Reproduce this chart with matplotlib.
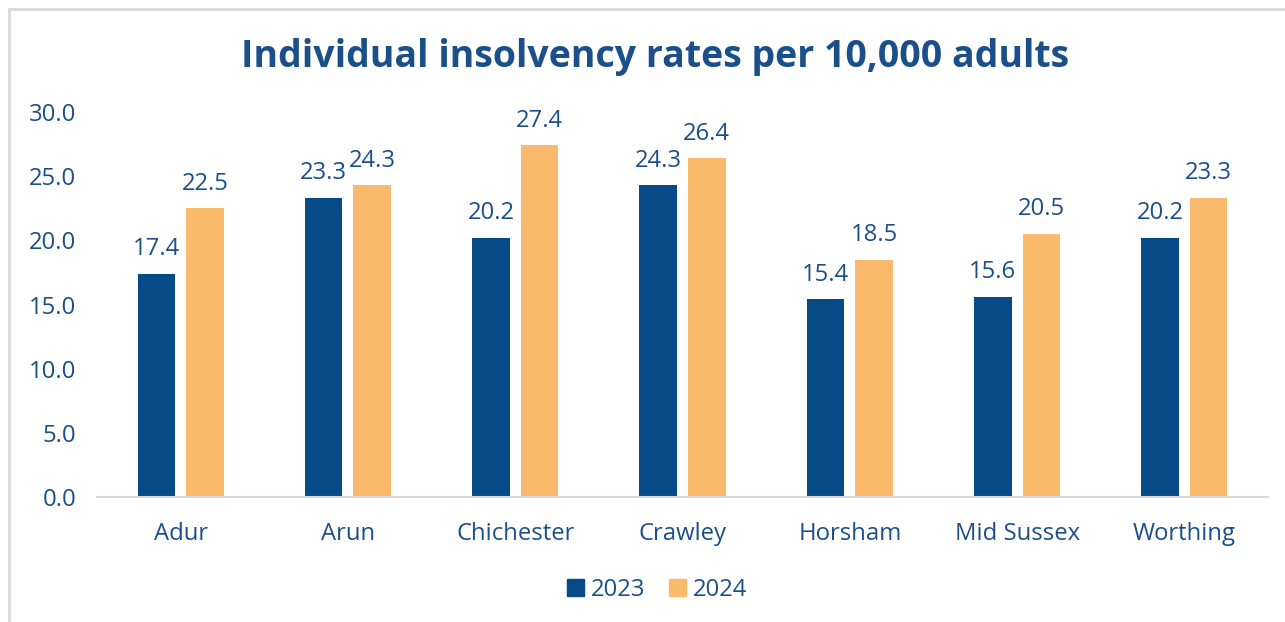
import numpy as np
import matplotlib.pyplot as plt
from matplotlib.lines import Line2D
from matplotlib.patches import Patch

districts = ["Adur", "Arun", "Chichester", "Crawley", "Horsham", "Mid Sussex", "Worthing"]
rates_2023 = [17.4, 23.3, 20.2, 24.3, 15.4, 15.6, 20.2]
rates_2024 = [22.5, 24.3, 27.4, 26.4, 18.5, 20.5, 23.3]
y_ticks = [0, 5, 10, 15, 20, 25, 30]

blue = "#064a87"
orange = "#fbba6b"
text_col = "#1b4f8a"

plt.rcParams["font.family"] = ["Open Sans", "DejaVu Sans"]

fig = plt.figure(figsize=(12.85, 6.22), dpi=100)
ax = fig.add_axes([97 / 1285, 1 - 497 / 622, (1268 - 97) / 1285, 385 / 622])

x = np.arange(len(districts))
w = 0.225
b1 = ax.bar(x - 0.145, rates_2023, w, color=blue, label="2023")
b2 = ax.bar(x + 0.145, rates_2024, w, color=orange, label="2024")

for bars in (b1, b2):
    for bar in bars:
        h = bar.get_height()
        ax.annotate(f"{h:.1f}", (bar.get_x() + bar.get_width() / 2, h),
                    xytext=(0, 9), textcoords="offset points",
                    ha="center", va="bottom", fontsize=17.2, color=text_col)

ax.set_xlim(-0.5, len(districts) - 0.5)
ax.set_ylim(0, 30)
ax.set_yticks(y_ticks)
ax.set_yticklabels([f"{v:.1f}" for v in y_ticks])
ax.set_xticks(x)
ax.set_xticklabels(districts)
ax.tick_params(axis="both", length=0, labelsize=17.2, labelcolor=text_col)
ax.tick_params(axis="y", pad=15)
ax.tick_params(axis="x", pad=18)
for s in ["top", "right", "left"]:
    ax.spines[s].set_visible(False)
ax.spines["bottom"].set_color("#d9d9d9")
ax.spines["bottom"].set_linewidth(1.5)

fig.text(655 / 1285, 1 - 57 / 622, "Individual insolvency rates per 10,000 adults",
         ha="center", va="center", fontsize=27, fontweight="bold", color=text_col)

handles = [Patch(color=blue, label="2023"), Patch(color=orange, label="2024")]
fig.legend(handles=handles, loc="center", bbox_to_anchor=(657 / 1285, 1 - 590 / 622),
           ncol=2, frameon=False, fontsize=17.2, labelcolor=text_col,
           handlelength=0.7, handleheight=0.7, handletextpad=0.3, columnspacing=1.0)

# light grey frame (top and left edges visible)
fig.add_artist(Line2D([9 / 1285, 1], [1 - 9 / 622, 1 - 9 / 622], color="#d9d9d9", lw=2,
                      transform=fig.transFigure))
fig.add_artist(Line2D([9 / 1285, 9 / 1285], [0, 1 - 9 / 622], color="#d9d9d9", lw=2,
                      transform=fig.transFigure))

fig.savefig("out.png", dpi=100)
